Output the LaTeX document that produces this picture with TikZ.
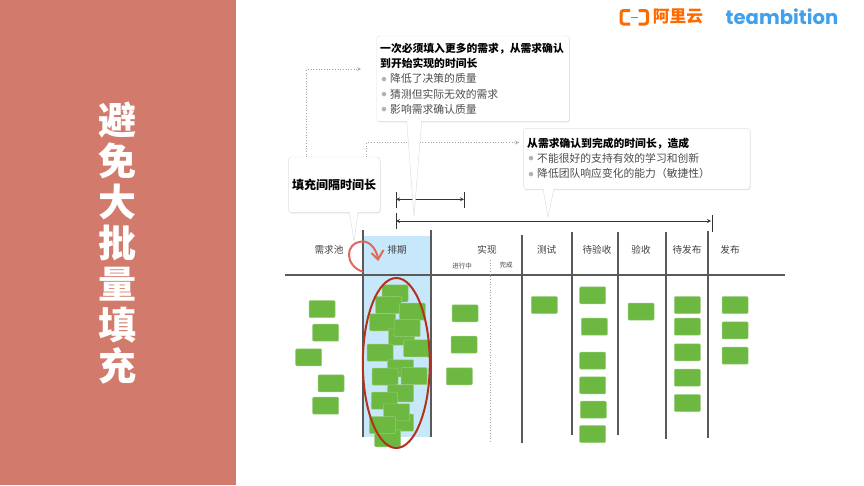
\documentclass[tikz,border=0pt]{standalone}
\usepackage{fontspec}
\setmainfont{Noto Sans CJK SC}
\newfontfamily\logofont{Poppins}
\usetikzlibrary{shadows}
\definecolor{panelred}{HTML}{D27A6B}
\definecolor{laneblue}{HTML}{C7E7FB}
\definecolor{stickygreen}{HTML}{6CB840}
\definecolor{lanegray}{HTML}{5A5A5A}
\definecolor{ringred}{HTML}{B5301A}
\definecolor{turnred}{HTML}{E2685F}
\definecolor{alibaba}{HTML}{FF6A00}
\definecolor{teamblue}{HTML}{3FA0EE}
\newcommand{\calloutitem}[1]{\makebox[10pt][l]{\hspace{1.5pt}\raisebox{1.5pt}{\textcolor{black!30}{\fontsize{5}{5}\selectfont ●}}}\textcolor{black!70}{#1}}
\newcommand{\widecomma}{\char"FF0C\relax}
\newcommand{\wideopen}{\char"FF08\relax}
\newcommand{\wideclose}{\char"FF09\relax}
\tikzset{
  sticky/.style={fill=stickygreen,draw=stickygreen!70!white,line width=0.5pt,rounded corners=1pt,minimum width=26pt,minimum height=17pt,inner sep=0pt},
  callout/.style={fill=white,draw=black!12,line width=0.4pt,rounded corners=3pt,drop shadow={shadow xshift=0.6pt,shadow yshift=-0.8pt,opacity=0.25},inner sep=0pt},
  calloutline/.style={font=\fontsize{10.8}{15.2}\selectfont,align=left,anchor=north west,inner sep=0pt},
  calloutail/.style={fill=white,draw=black!15,line width=0.4pt},
  lane/.style={draw=lanegray,line width=1.1pt},
  dimline/.style={draw=black!80,line width=0.8pt},
  hint/.style={draw=black!35,line width=0.7pt,dotted},
  lanelabel/.style={font=\fontsize{9.6}{11}\selectfont,text=black!75,inner sep=0pt},
  sublabel/.style={font=\fontsize{6.5}{8}\selectfont,text=black!75,inner sep=0pt}
}
\begin{document}
\begin{tikzpicture}[x=1pt,y=-1pt,>=stealth]
  \useasboundingbox (0,0) rectangle (864,485);
  % Side panel
  \fill[panelred] (0,0) rectangle (236,485);
  \node[text=white,font=\fontsize{38}{41}\selectfont\bfseries,align=center,inner sep=0pt] (title) at (117,243.5) {避\\免\\大\\批\\量\\填\\充};
  % Logos
  \draw[alibaba,line width=3pt,rounded corners=2.5pt] (630,10.5) -- (621,10.5) -- (621,24) -- (630,24);
  \draw[alibaba,line width=3pt,rounded corners=2.5pt] (638.5,10.5) -- (647.5,10.5) -- (647.5,24) -- (638.5,24);
  \draw[alibaba,line width=1.6pt] (631,17.3) -- (638,17.3);
  \node[text=alibaba,font=\fontsize{16.7}{18}\selectfont\bfseries,inner sep=0pt] (aliyun) at (678,17) {阿里云};
  \node[text=teamblue,font=\logofont\fontsize{19.6}{20}\selectfont\bfseries,inner sep=0pt] (teambition) at (782,17) {teambition};
  % Schedule lane
  \fill[laneblue] (363,236) rectangle (431,437);
  % Lanes
  \coordinate (headL) at (285,275);
  \coordinate (headR) at (785,275);
  \draw[lane] (headL) -- (headR);
  \draw[lane] (363,230) -- (363,437);
  \draw[lane] (431,230) -- (431,437);
  \draw[lane] (522,235) -- (522,443);
  \draw[lane] (572,232) -- (572,435);
  \draw[lane] (618,232) -- (618,435);
  \draw[lane] (666,232) -- (666,439);
  \draw[lane] (708,231) -- (708,438);
  \draw[black!35,line width=0.7pt,dotted] (490,260) -- (490,442);
  % Lane labels
  \node[lanelabel] (pool) at (329,250) {需求池};
  \node[lanelabel] (plan) at (397,250) {排期};
  \node[lanelabel] (impl) at (487,250) {实现};
  \node[sublabel] (doing) at (462,266) {进行中};
  \node[sublabel] (done) at (506,265) {完成};
  \node[lanelabel] (test) at (546.7,250) {测试};
  \node[lanelabel] (waitcheck) at (597,250) {待验收};
  \node[lanelabel] (check) at (641,250) {验收};
  \node[lanelabel] (waitrel) at (687,250) {待发布};
  \node[lanelabel] (rel) at (730,250) {发布};
  % Pool
  \node[sticky] (s1) at (322,309) {};
  \node[sticky] (s2) at (325.7,332.7) {};
  \node[sticky] (s3) at (308.7,357.3) {};
  \node[sticky] (s4) at (331,383.3) {};
  \node[sticky] (s5) at (325.7,405.7) {};
  % Pile
  \node[sticky] (p1) at (395,293.3) {};
  \node[sticky] (p2) at (388.7,305) {};
  \node[sticky] (p3) at (412.3,311.7) {};
  \node[sticky] (p4) at (382.7,322.3) {};
  \node[sticky] (p5) at (401.7,336.7) {};
  \node[sticky] (p6) at (407,328) {};
  \node[sticky] (p7) at (416.7,348.3) {};
  \node[sticky] (p8) at (380,352.7) {};
  \node[sticky] (p9) at (400.7,368.3) {};
  \node[sticky] (p10) at (385,376.7) {};
  \node[sticky] (p11) at (414,376) {};
  \node[sticky] (p12) at (400.7,393.3) {};
  \node[sticky] (p13) at (384.3,400.7) {};
  \node[sticky] (p14) at (400.7,422.7) {};
  \node[sticky] (p15) at (396.7,412.3) {};
  \node[sticky] (p16) at (387.7,438.3) {};
  \node[sticky] (p17) at (382.3,425) {};
  \draw[ringred,line width=2pt] (396.3,363) ellipse (33.5 and 85);
  % In progress
  \node[sticky] (d1) at (465,313.3) {};
  \node[sticky] (d2) at (464,344.7) {};
  \node[sticky] (d3) at (459.3,376.3) {};
  % Test
  \node[sticky] (t1) at (544.3,305) {};
  % Waiting for check
  \node[sticky] (w1) at (592.7,295.3) {};
  \node[sticky] (w2) at (594.3,326.7) {};
  \node[sticky] (w3) at (592.7,360.7) {};
  \node[sticky] (w4) at (592.7,385.3) {};
  \node[sticky] (w5) at (593.3,409.7) {};
  \node[sticky] (w6) at (592.7,434) {};
  % Check
  \node[sticky] (c1) at (641,311.7) {};
  % Waiting for release
  \node[sticky] (r1) at (687.3,305) {};
  \node[sticky] (r2) at (687.3,326.7) {};
  \node[sticky] (r3) at (687.3,352.3) {};
  \node[sticky] (r4) at (687.3,377.7) {};
  \node[sticky] (r5) at (687.3,403) {};
  % Release
  \node[sticky] (f1) at (735,305) {};
  \node[sticky] (f2) at (735,330.3) {};
  \node[sticky] (f3) at (735,355.7) {};
  % Spans
  \coordinate (spanA) at (396,199.3);
  \coordinate (spanB) at (464,199.3);
  \coordinate (spanC) at (396,221);
  \coordinate (spanD) at (711,221);
  \draw[dimline,<->] (spanA) -- (spanB);
  \draw[dimline,<->] (spanC) -- (spanD);
  \draw[dimline] (396,191.5) -- (396,207.5);
  \draw[dimline] (464,191.5) -- (464,207.5);
  \draw[dimline] (396,213) -- (396,229);
  \draw[dimline] (712.7,215) -- (712.7,232);
  % Hints
  \coordinate (hintA) at (306.7,157);
  \coordinate (hintB) at (361,69);
  \coordinate (hintC) at (366.7,157);
  \coordinate (hintD) at (519,142.5);
  \draw[hint,->] (hintA) |- (hintB);
  \draw[hint,->] (hintC) |- (hintD);
  % Batch callout
  \node[callout,minimum width=192.6pt,minimum height=85.7pt] (batch) at (473,78.8) {};
  \draw[calloutail] (406.7,121) -- (414,216.7) -- (421.7,121);
  \node[calloutline] (batchtext) at (380,43) {\textbf{一次必须填入更多的需求\widecomma 从需求确认}\\\textbf{到开始实现的时间长}\\\calloutitem{降低了决策的质量}\\\calloutitem{猜测但实际无效的需求}\\\calloutitem{影响需求确认质量}};
  % Lead callout
  \node[callout,minimum width=226.7pt,minimum height=61pt] (lead) at (636.7,158.8) {};
  \draw[calloutail] (543,188.7) -- (548,217) -- (554,188.7);
  \node[calloutline] (leadtext) at (527,137.5) {\textbf{从需求确认到完成的时间长\widecomma 造成}\\\calloutitem{不能很好的支持有效的学习和创新}\\\calloutitem{降低团队响应变化的能力\wideopen 敏捷性\wideclose}};
  % Gap callout
  \node[callout,minimum width=91.7pt,minimum height=55.7pt,font=\fontsize{12}{14}\selectfont\bfseries] (gap) at (334.2,184.8) {填充间隔时间长};
  \draw[calloutail] (349.5,212) -- (354,241.5) -- (358,212);
  % Turn arrow
  \coordinate (turnA) at (362.7,271.7);
  \coordinate (turnB) at (378,258);
  \draw[turnred,line width=2pt] (turnA) .. controls (345,266) and (344,243) .. (362,241.5) .. controls (370,241) and (376,249) .. (turnB);
  \draw[turnred,line width=2pt] (371.5,253) -- (378,259.5) -- (383.5,250);
\end{tikzpicture}
\end{document}
